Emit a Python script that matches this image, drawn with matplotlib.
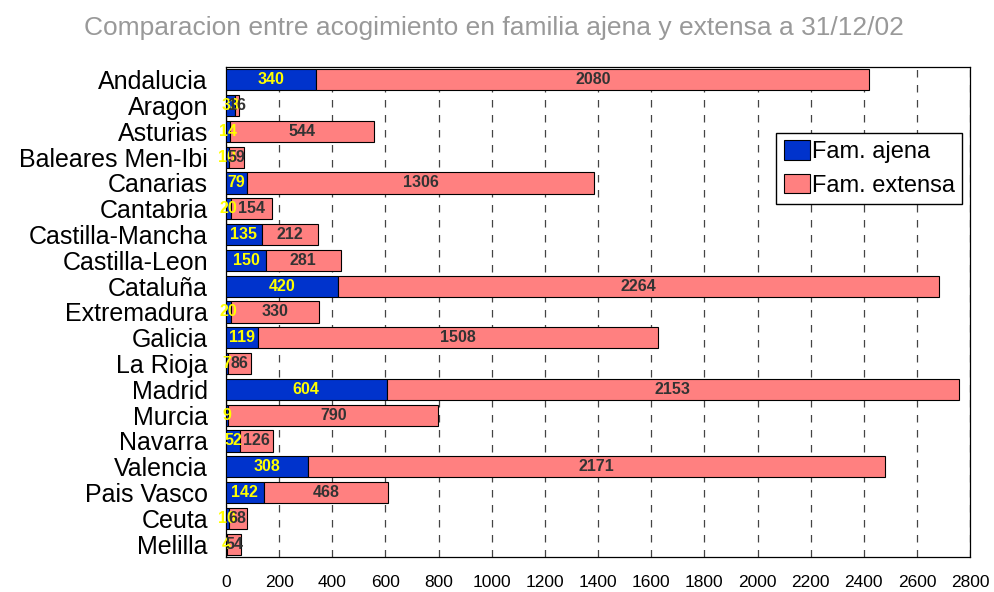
import matplotlib.pyplot as plt

plt.rcParams['font.family'] = ['Liberation Sans', 'DejaVu Sans']

regiones = ["Andalucia", "Aragon", "Asturias", "Baleares Men-Ibi", "Canarias",
            "Cantabria", "Castilla-Mancha", "Castilla-Leon", "Cataluña", "Extremadura",
            "Galicia", "La Rioja", "Madrid", "Murcia", "Navarra", "Valencia",
            "Pais Vasco", "Ceuta", "Melilla"]
ajena = [340, 33, 14, 10, 79, 20, 135, 150, 420, 20, 119, 7, 604, 9, 52, 308, 142, 10, 4]
extensa = [2080, 16, 544, 59, 1306, 154, 212, 281, 2264, 330, 1508, 86, 2153, 790, 126, 2171, 468, 68, 54]

fig = plt.figure(figsize=(9.94, 5.92), dpi=100)
ax = fig.add_axes([0.2274, 0.059, 0.7486, 0.828])

y = list(range(len(regiones)))
ax.barh(y, ajena, height=0.82, color="#0033cc", edgecolor="black", linewidth=0.8,
        label="Fam. ajena", zorder=3)
ax.barh(y, extensa, left=ajena, height=0.82, color="#ff8080", edgecolor="black",
        linewidth=0.8, label="Fam. extensa", zorder=3)

for i in y:
    ax.text(ajena[i] / 2, i, str(ajena[i]), ha="center", va="center", color="#ffff00",
            fontsize=11.5, fontweight="bold", zorder=4)
    ax.text(ajena[i] + extensa[i] / 2, i, str(extensa[i]), ha="center", va="center",
            color="#333333", fontsize=11.5, fontweight="bold", zorder=4)

ax.set_xlim(0, 2800)
ax.set_ylim(len(regiones) - 0.5, -0.5)
ax.set_xticks(range(0, 2801, 200))
ax.set_yticks(y)
ax.set_yticklabels(regiones, fontsize=18)
ax.tick_params(axis="x", labelsize=12.5, length=0, pad=13)
ax.tick_params(axis="y", length=0, pad=13)
ax.grid(axis="x", color="#444444", linestyle=(0, (6, 6)), linewidth=0.9, zorder=0)
for s in ax.spines.values():
    s.set_color("black")
    s.set_linewidth(0.9)

ax.legend(loc="upper right", bbox_to_anchor=(0.989, 0.865), fontsize=17, frameon=True,
          fancybox=False, edgecolor="black", framealpha=1, handlelength=1.1,
          handleheight=0.9, handletextpad=0.1, borderpad=0.3, labelspacing=0.45,
          borderaxespad=0)

fig.text(0.497, 0.953, "Comparacion entre acogimiento en familia ajena y extensa a 31/12/02",
         ha="center", va="center", fontsize=19, color="#999999")

fig.savefig("out.png", dpi=100)
